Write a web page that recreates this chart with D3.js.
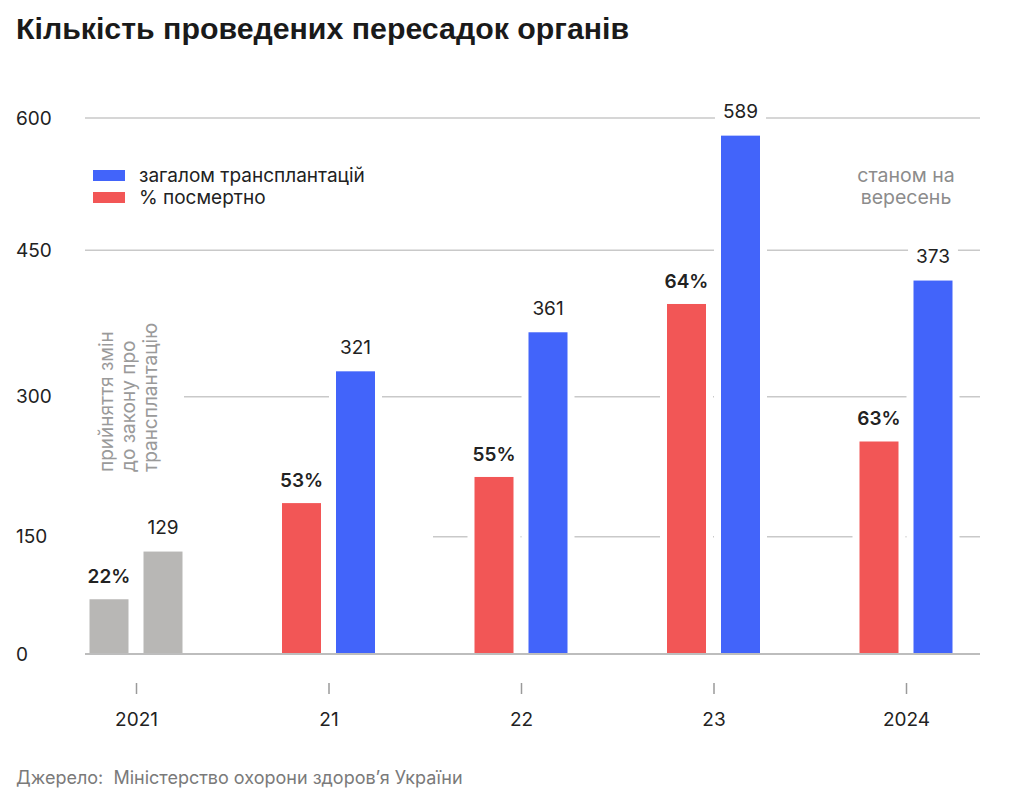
<!DOCTYPE html>
<html>
<head>
<meta charset="utf-8">
<script src="https://cdn.jsdelivr.net/npm/d3@7"></script>
<style>
  body { margin: 0; background: #fff; }
  svg { display: block; }
  text { font-family: Inter, "Noto Sans", sans-serif; }
</style>
</head>
<body>
<svg id="chart" width="1024" height="805"></svg>
<script>
// values, in units of the drawn y axis
var years = ["2021", "21", "22", "23", "2024"];
var totalValues = [131, 326, 366, 580, 419];
var posthumousValues = [70, 186, 214, 395, 252];
var totalLabels = ["129", "321", "361", "589", "373"];
var shareLabels = ["22%", "53%", "55%", "64%", "63%"];
var yTicks = [0, 150, 300, 450, 600];
var legendItems = ["загалом трансплантацій", "% посмертно"];
var noteLines = ["прийняття змін", "до закону про", "трансплантацію"];

var colors = { total: "#4264fa", posthumous: "#f25656", before: "#b8b7b5",
  grid: "#c9c9c9", text: "#222", muted: "#8c8c8c" };

var svg = d3.select("#chart");
var barW = 39, barGap = 15, halo = 7;

var x = d3.scalePoint().domain(years).range([136, 906]);
// the published axis is not evenly spaced, so the scale follows its gridlines
var y = d3.scaleLinear().domain(yTicks).range([654, 536.7, 396.7, 250.3, 118]);
var gridFrom = { 0: 85, 150: 433, 300: 184, 450: 85, 600: 85 };
var gridTo = 980;

svg.append("text")
  .attr("x", 16).attr("y", 39)
  .style("font-family", "'Liberation Sans', Arial, sans-serif")
  .style("font-weight", "bold").style("font-size", "30.3px")
  .attr("fill", "#1a1a1a")
  .text("Кількість проведених пересадок органів");

// gridlines
svg.append("g").selectAll("line")
  .data(yTicks.filter(function (d) { return d > 0; }))
  .enter().append("line")
  .attr("x1", function (d) { return gridFrom[d]; })
  .attr("x2", gridTo)
  .attr("y1", function (d) { return y(d); })
  .attr("y2", function (d) { return y(d); })
  .attr("stroke", colors.grid).attr("stroke-width", 1.5);

svg.append("g").selectAll("text")
  .data(yTicks)
  .enter().append("text")
  .attr("x", 16)
  .attr("y", function (d) { return y(d); })
  .attr("dy", "0.35em")
  .attr("fill", colors.text).style("font-size", "19px")
  .text(function (d) { return d; });

var rows = years.map(function (yr, i) {
  return { year: yr, i: i, total: totalValues[i], post: posthumousValues[i],
    totalLabel: totalLabels[i], shareLabel: shareLabels[i] };
});

function leftX(d) { return x(d.year) - barGap / 2 - barW; }
function rightX(d) { return x(d.year) + barGap / 2; }

// white halos that cut the gridlines around bars
var halos = svg.append("g");
rows.forEach(function (d) {
  [[leftX(d), d.post], [rightX(d), d.total]].forEach(function (b) {
    halos.append("rect")
      .attr("x", b[0] - halo).attr("width", barW + halo * 2)
      .attr("y", y(b[1]) - halo).attr("height", y(0) - y(b[1]) + halo)
      .attr("fill", "#fff");
  });
});

var bars = svg.append("g");
bars.selectAll(".post").data(rows).enter().append("rect")
  .attr("class", "post")
  .attr("x", leftX).attr("width", barW)
  .attr("y", function (d) { return y(d.post); })
  .attr("height", function (d) { return y(0) - y(d.post); })
  .attr("fill", function (d) { return d.i === 0 ? colors.before : colors.posthumous; });

bars.selectAll(".total").data(rows).enter().append("rect")
  .attr("class", "total")
  .attr("x", rightX).attr("width", barW)
  .attr("y", function (d) { return y(d.total); })
  .attr("height", function (d) { return y(0) - y(d.total); })
  .attr("fill", function (d) { return d.i === 0 ? colors.before : colors.total; });

// baseline
svg.append("line")
  .attr("x1", gridFrom[0]).attr("x2", gridTo)
  .attr("y1", y(0)).attr("y2", y(0))
  .attr("stroke", "#bdbdbd").attr("stroke-width", 2);

// value labels
var labels = svg.append("g");
rows.forEach(function (d) {
  var t = labels.append("text")
    .attr("x", rightX(d) + barW / 2)
    .attr("y", y(d.total) - 24)
    .attr("dy", "0.35em")
    .attr("text-anchor", "middle")
    .attr("fill", colors.text).style("font-size", "19px")
    .text(d.totalLabel);
  var bb = t.node().getBBox();
  labels.insert("rect", "text")
    .attr("x", bb.x - 8).attr("y", bb.y - 2)
    .attr("width", bb.width + 16).attr("height", bb.height + 4)
    .attr("fill", "#fff");

  labels.append("text")
    .attr("x", leftX(d) + barW / 2)
    .attr("y", y(d.post) - 23)
    .attr("dy", "0.35em")
    .attr("text-anchor", "middle")
    .attr("fill", colors.text).style("font-size", "19px").style("font-weight", 600)
    .text(d.shareLabel);
});

// x axis
var xAxis = svg.append("g")
  .attr("transform", "translate(0,683)")
  .call(d3.axisBottom(x).tickSize(11).tickPadding(0));
xAxis.select(".domain").remove();
xAxis.selectAll(".tick line").attr("stroke", "#9a9a9a").attr("stroke-width", 1.5);
xAxis.selectAll(".tick text")
  .attr("y", 36).attr("dy", "0.35em")
  .attr("fill", colors.text)
  .style("font-family", "Inter, sans-serif").style("font-size", "19px");

// legend
var legend = svg.append("g");
[colors.total, colors.posthumous].forEach(function (c, i) {
  legend.append("rect")
    .attr("x", 93).attr("y", 170 + i * 22)
    .attr("width", 32).attr("height", 11)
    .attr("fill", c);
  legend.append("text")
    .attr("x", 139).attr("y", 175.5 + i * 22)
    .attr("dy", "0.35em")
    .attr("fill", colors.text).style("font-size", "19px")
    .text(legendItems[i]);
});

// notes
var asOf = svg.append("text")
  .attr("x", 906).attr("y", 175)
  .attr("text-anchor", "middle")
  .attr("fill", colors.muted).style("font-size", "19.5px");
["станом на", "вересень"].forEach(function (s, i) {
  asOf.append("tspan").attr("x", 906).attr("dy", i === 0 ? "0.35em" : 22).text(s);
});

var note = svg.append("text")
  .attr("transform", "translate(106,472) rotate(-90)")
  .attr("fill", "#9a9a9a").style("font-size", "19px");
noteLines.forEach(function (s, i) {
  note.append("tspan").attr("x", 0).attr("y", i * 22.3).attr("dy", "0.35em").text(s);
});

svg.append("text")
  .attr("x", 16).attr("y", 778)
  .attr("dy", "0.35em")
  .attr("fill", "#7a7a7a").style("font-size", "18px")
  .style("white-space", "pre")
  .text("Джерело:  Міністерство охорони здоров’я України");
</script>
</body>
</html>
